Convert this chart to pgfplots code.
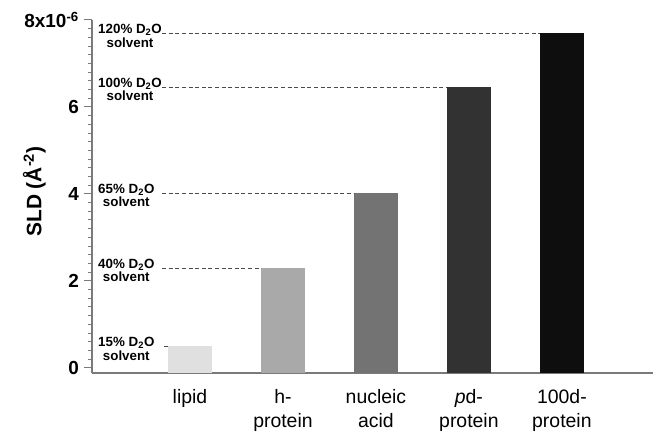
\documentclass[border=0pt]{standalone}
\usepackage{pgfplots}
\pgfplotsset{compat=1.18}
\usepackage{fontspec}
\setmainfont{Liberation Sans}

\definecolor{axisgray}{HTML}{7A7A7A}
\definecolor{dashgray}{HTML}{4A4A4A}
\definecolor{lipidc}{HTML}{E0E0E0}
\definecolor{hprotc}{HTML}{A9A9A9}
\definecolor{nuclc}{HTML}{737373}
\definecolor{pdprotc}{HTML}{323232}
\definecolor{dprotc}{HTML}{0E0E0E}

\newcommand{\solv}[1]{\begin{tabular}[t]{@{}c@{}}#1\% D\textsubscript{2}O\\solvent\end{tabular}}

\begin{document}
\begin{tikzpicture}
\begin{axis}[
  name=ax,
  scale only axis,
  width=561bp, height=353bp,
  xmin=-1.054, xmax=4.98,
  ymin=-0.12, ymax=8,
  axis x line*=bottom,
  axis y line*=left,
  axis line style={axisgray, line width=1.2bp},
  xtick={0,1,2,3,4},
  xticklabels={lipid, {h-\\protein}, {nucleic\\acid}, {\textit{p}d-\\protein}, {100d-\\protein}},
  xticklabel style={align=center, font=\fontsize{19.5}{24}\selectfont, inner sep=0pt, yshift=-8bp},
  xtick style={draw=none},
  ytick={0,2,4,6,8},
  yticklabels={0,2,4,6,8x10\textsuperscript{-6}},
  minor y tick num=9,
  tick align=outside,
  ytick style={axisgray, line width=1bp},
  major tick length=8bp, minor tick length=4bp,
  yticklabel style={font=\fontsize{19}{20}\bfseries\selectfont, inner sep=0pt, xshift=-5bp},
  ylabel={SLD (Å\textsuperscript{-2})},
  ylabel style={at={(axis description cs:-0.103,0.514)}, anchor=center, font=\fontsize{21}{24}\bfseries\selectfont},
  clip=false,
  level/.style={dashgray, dash pattern=on 4bp off 2.6bp, line width=1bp, mark=none},
]
% bars, each from the bottom of the axis up to its SLD value
\addplot[fill=lipidc, draw=none] coordinates {(-0.237,-0.12) (-0.237,0.49) (0.237,0.49) (0.237,-0.12)} -- cycle;
\addplot[fill=hprotc, draw=none] coordinates {(0.763,-0.12) (0.763,2.29) (1.237,2.29) (1.237,-0.12)} -- cycle;
\addplot[fill=nuclc, draw=none] coordinates {(1.763,-0.12) (1.763,4.02) (2.237,4.02) (2.237,-0.12)} -- cycle;
\addplot[fill=pdprotc, draw=none] coordinates {(2.763,-0.12) (2.763,6.45) (3.237,6.45) (3.237,-0.12)} -- cycle;
\addplot[fill=dprotc, draw=none] coordinates {(3.763,-0.12) (3.763,7.69) (4.237,7.69) (4.237,-0.12)} -- cycle;

% solvent contrast levels
\addplot[level] coordinates {(-0.28,0.49) (-0.237,0.49)};
\addplot[level] coordinates {(-0.30,2.29) (0.763,2.29)};
\addplot[level] coordinates {(-0.30,4.02) (1.763,4.02)};
\addplot[level] coordinates {(-0.30,6.45) (2.763,6.45)};
\addplot[level] coordinates {(-0.30,7.69) (3.763,7.69)};

\begin{scope}[every node/.style={anchor=base west, inner sep=0pt, font=\fontsize{13.4}{13}\bfseries\selectfont}]
\node at (axis cs:-0.989,0.49) {\solv{15}};
\node at (axis cs:-0.989,2.29) {\solv{40}};
\node at (axis cs:-0.989,4.02) {\solv{65}};
\node at (axis cs:-0.989,6.45) {\solv{100}};
\node at (axis cs:-0.989,7.69) {\solv{120}};
\end{scope}
\end{axis}
\path ([shift={(-92bp,-61bp)}]ax.south west) rectangle ([shift={(6bp,20bp)}]ax.north east);
\end{tikzpicture}
\end{document}
